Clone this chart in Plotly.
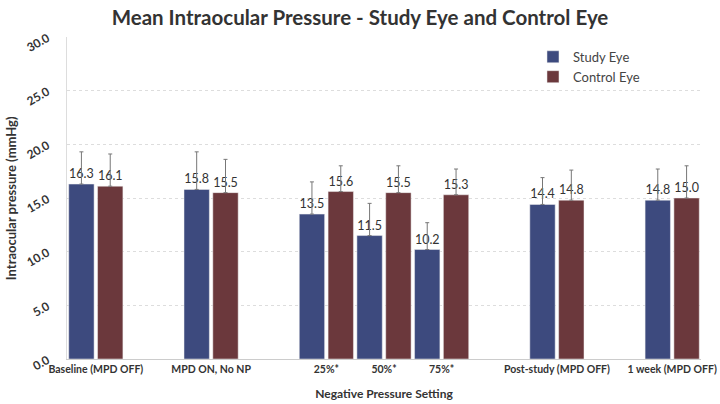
import plotly.graph_objects as go

# group positions on a half-step axis (gaps between phases)
positions = [0, 2, 4, 5, 6, 8, 10]
categories = [
    "Baseline (MPD OFF)",
    "MPD ON, No NP",
    "25%*",
    "50%*",
    "75%*",
    "Post-study (MPD OFF)",
    "1 week (MPD OFF)",
]
study_eye = [16.3, 15.8, 13.5, 11.5, 10.2, 14.4, 14.8]
control_eye = [16.1, 15.5, 15.6, 15.5, 15.3, 14.8, 15.0]
study_err = [3.0, 3.5, 3.0, 3.0, 2.5, 2.5, 2.9]
control_err = [3.0, 3.1, 2.4, 2.5, 2.4, 2.8, 3.0]
y_ticks = [0, 5, 10, 15, 20, 25, 30]

FONT = "Lato"

fig = go.Figure()
for name, vals, errs, color in [
    ("Study Eye", study_eye, study_err, "#3d4a7e"),
    ("Control Eye", control_eye, control_err, "#6b383c"),
]:
    fig.add_trace(
        go.Bar(
            x=positions,
            y=vals,
            name=name,
            marker=dict(color=color, line=dict(color="#f0f0f0", width=0.5)),
            error_y=dict(
                type="data",
                symmetric=False,
                array=errs,
                arrayminus=[0] * len(errs),
                color="#777777",
                thickness=1,
                width=2,
            ),
            text=[f"{v:.1f}" for v in vals],
            textposition="outside",
            textfont=dict(family=FONT, size=12.5, color="#333333"),
            cliponaxis=False,
        )
    )

fig.update_layout(
    width=720,
    height=404,
    margin=dict(l=67, r=19, t=37, b=45),
    paper_bgcolor="white",
    plot_bgcolor="white",
    barmode="group",
    bargap=0,
    bargroupgap=0.12,
    title=dict(
        text="<b>Mean Intraocular Pressure - Study Eye and Control Eye</b>",
        x=0.5,
        xanchor="center",
        y=0.955,
        yanchor="middle",
        font=dict(family=FONT, size=20.5, color="#333333"),
    ),
    legend=dict(
        x=0.735,
        y=0.985,
        xanchor="left",
        yanchor="top",
        font=dict(family=FONT, size=13, color="#444444"),
        bgcolor="rgba(0,0,0,0)",
        tracegroupgap=2,
    ),
    uniformtext=dict(minsize=8, mode="show"),
    annotations=[
        dict(
            text="<b>Intraocular pressure (mmHg)</b>",
            xref="paper",
            yref="paper",
            x=-0.088,
            y=0.5,
            xanchor="center",
            yanchor="middle",
            textangle=-90,
            showarrow=False,
            font=dict(family=FONT, size=13, color="#333333"),
        )
    ],
)
fig.update_xaxes(
    range=[-0.5, 10.5],
    tickvals=positions,
    ticktext=[f"<b>{c}</b>" for c in categories],
    tickfont=dict(family=FONT, size=10.5, color="#333333"),
    ticklabeloverflow="allow",
    showgrid=False,
    showline=True,
    linecolor="#cccccc",
    linewidth=1,
    ticks="",
    zeroline=False,
    automargin=False,
    title=dict(
        text="<b>Negative Pressure Setting</b>",
        font=dict(family=FONT, size=12, color="#333333"),
        standoff=16,
    ),
)
fig.update_yaxes(
    range=[0, 30],
    tickvals=y_ticks,
    ticktext=[f"<b>{t:.1f}</b>" for t in y_ticks],
    tickangle=-30,
    tickfont=dict(family=FONT, size=12, color="#333333"),
    ticklabelstandoff=16,
    showgrid=True,
    gridcolor="#dddddd",
    griddash="dot",
    gridwidth=1,
    showline=True,
    linecolor="#dddddd",
    zeroline=False,
    ticks="",
    automargin=False,
)

# drop the default page margin so the figure fills the window exactly
fig.write_html(
    "out.html",
    config={"displayModeBar": False},
    post_script="document.body.style.margin='0';document.body.style.overflow='hidden';",
)
